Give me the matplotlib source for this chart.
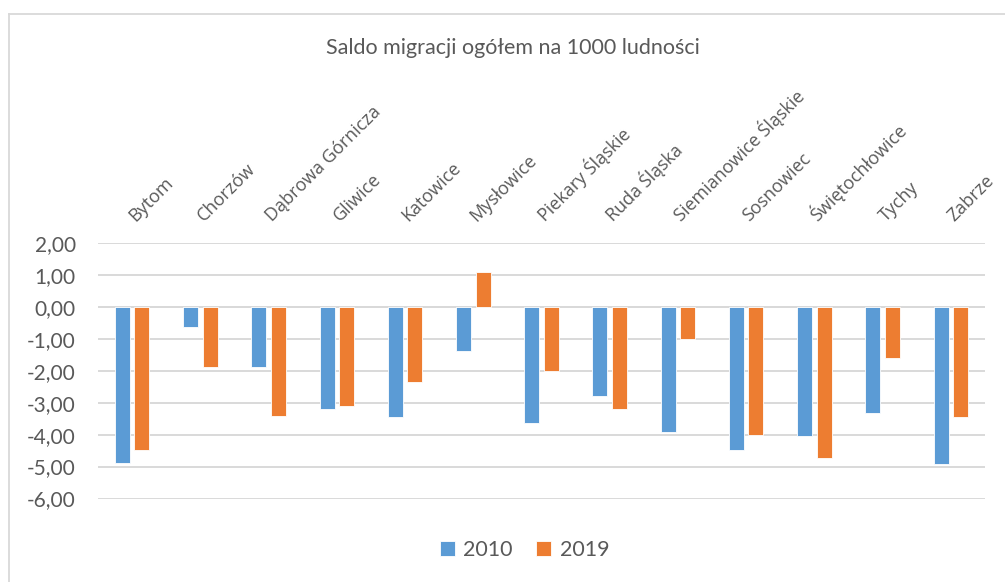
import matplotlib
matplotlib.use("Agg")
import matplotlib.pyplot as plt
import numpy as np
from matplotlib.lines import Line2D
from matplotlib.ticker import FuncFormatter
from matplotlib.transforms import ScaledTranslation

cities = [
    "Bytom", "Chorzów", "Dąbrowa Górnicza", "Gliwice", "Katowice", "Mysłowice",
    "Piekary Śląskie", "Ruda Śląska", "Siemianowice Śląskie", "Sosnowiec",
    "Świętochłowice", "Tychy", "Zabrze",
]
saldo_2010 = [-4.89, -0.62, -1.87, -3.20, -3.45, -1.39, -3.65, -2.80, -3.92, -4.47, -4.05, -3.32, -4.93]
saldo_2019 = [-4.47, -1.89, -3.43, -3.10, -2.35, 1.08, -2.02, -3.19, -1.01, -4.02, -4.74, -1.60, -3.46]
series_labels = ["2010", "2019"]

BLUE = "#5B9BD5"
ORANGE = "#ED7D31"
GRID = "#D9D9D9"
TEXT = "#595959"

fig = plt.figure(figsize=(10.05, 5.82), dpi=100)
ax = fig.add_axes([98 / 1005, 1 - 498.5 / 582, 887 / 1005, 255.5 / 582])

x = np.arange(len(cities))
w = 0.22
ax.bar(x - 0.143, saldo_2010, w, color=BLUE, edgecolor="white", linewidth=0.6,
       label=series_labels[0], zorder=3)
ax.bar(x + 0.143, saldo_2019, w, color=ORANGE, edgecolor="white", linewidth=0.6,
       label=series_labels[1], zorder=3)

ax.set_xlim(-0.5, len(cities) - 0.5)
ax.set_ylim(-6, 2)
ax.set_yticks(np.arange(-6, 3, 1))
ax.yaxis.set_major_formatter(FuncFormatter(lambda v, _: f"{v:.2f}".replace(".", ",")))
ax.grid(axis="y", color=GRID, linewidth=1.4, zorder=0)
ax.axhline(0, color=GRID, linewidth=1.4, zorder=1)
for s in ax.spines.values():
    s.set_visible(False)

ax.tick_params(axis="y", length=0, pad=16, labelsize=15, labelcolor=TEXT)
for t in ax.get_yticklabels():
    t.set_family("Lato")

ax.xaxis.tick_top()
ax.set_xticks(x)
ax.set_xticklabels(cities, rotation=45, ha="left", va="bottom",
                   rotation_mode="anchor", family="Open Sans", fontsize=13, color=TEXT)
ax.tick_params(axis="x", length=0, pad=13)
# nudge the slanted labels a few pixels right, as in the original
shift = ScaledTranslation(6 / 100, 0, fig.dpi_scale_trans)
for t in ax.get_xticklabels():
    t.set_transform(t.get_transform() + shift)

fig.text(0.51, 1 - 48 / 582, "Saldo migracji ogółem na 1000 ludności",
         ha="center", va="center", fontsize=15.5, color=TEXT, family="Lato")

leg = fig.legend(loc="center", bbox_to_anchor=(0.522, 1 - 550 / 582), ncol=2,
                 frameon=False, handlelength=0.7, handleheight=0.7,
                 handletextpad=0.4, columnspacing=1.1,
                 prop={"family": "Lato", "size": 15.5})
for t in leg.get_texts():
    t.set_color(TEXT)

# chart area frame (only top and left edges visible in the crop)
fig.add_artist(Line2D([8.5 / 1005, 8.5 / 1005], [0, 1 - 14 / 582], color=GRID, lw=1.3))
fig.add_artist(Line2D([8.5 / 1005, 1.0], [1 - 14 / 582, 1 - 14 / 582], color=GRID, lw=1.3))

fig.savefig("out.png", dpi=100)
